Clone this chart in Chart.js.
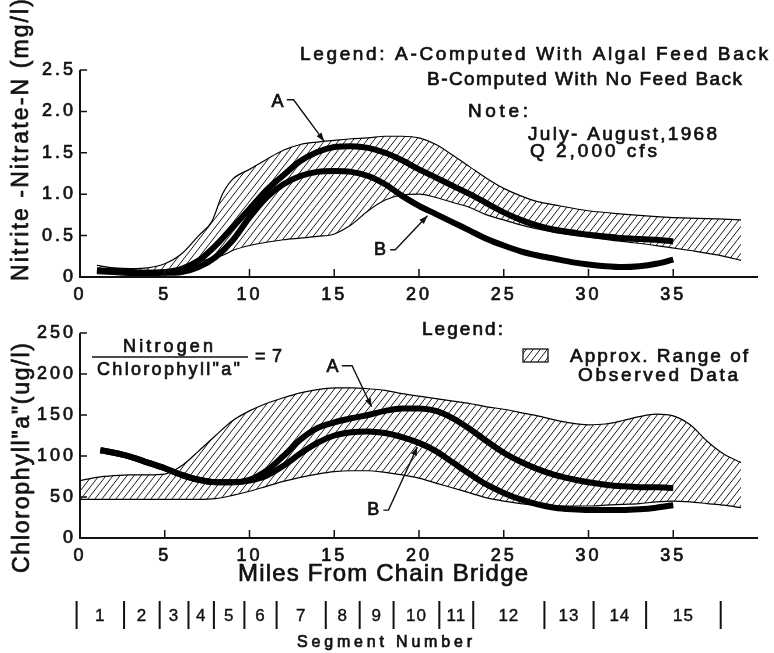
<!DOCTYPE html>
<html>
<head>
<meta charset="utf-8">
<script src="https://cdn.jsdelivr.net/npm/chart.js@4"></script>
<style>
html, body { margin: 0; padding: 0; background: #fff; }
#wrap { position: relative; width: 774px; height: 653px; }
#wrap canvas { position: absolute; left: 0; top: 0; }
</style>
</head>
<body>
<div id="wrap">
<canvas id="nitrate" width="774" height="653"></canvas>
<canvas id="chloro" width="774" height="653"></canvas>
</div>
<script>
// ---- data: top panel, nitrite-nitrate-N (mg/l) ----
const nMiles = [1,2,3,4,5,6,7,8,9,10,11,12,13,14,15,16,17,18,19,20,21,22,23,24,25,26,27,28,29,30,31,32,33,34,35]
const nCurveA = [0.08,0.07,0.06,0.05,0.06,0.1,0.2,0.38,0.6,0.82,1.05,1.23,1.4,1.51,1.57,1.58,1.56,1.5,1.41,1.3,1.2,1.1,1.0,0.89,0.78,0.69,0.62,0.57,0.54,0.51,0.49,0.47,0.46,0.45,0.43]
const nCurveB = [0.08,0.07,0.06,0.05,0.05,0.06,0.12,0.24,0.44,0.72,0.96,1.12,1.22,1.27,1.28,1.27,1.22,1.12,0.98,0.86,0.76,0.66,0.56,0.46,0.38,0.31,0.26,0.22,0.18,0.15,0.13,0.12,0.13,0.16,0.21]
const nBandMiles = [1,2,3,4,5,6,7,7.8,8.4,9,10,11,12,13,14,15,16,17,18,19,20,21,22,23,24,25,26,27,28,30,32,34,36,38,39]
const nBandHigh = [0.14,0.11,0.1,0.11,0.16,0.28,0.5,0.68,1.0,1.18,1.3,1.42,1.53,1.6,1.63,1.65,1.67,1.68,1.7,1.7,1.68,1.6,1.47,1.33,1.19,1.07,0.98,0.91,0.87,0.8,0.76,0.73,0.71,0.7,0.69]
const nBandLow = [0.04,0.03,0.02,0.02,0.03,0.08,0.18,0.23,0.26,0.32,0.38,0.42,0.45,0.47,0.49,0.52,0.63,0.8,0.93,0.99,1.0,0.96,0.9,0.84,0.75,0.69,0.63,0.58,0.54,0.48,0.43,0.38,0.32,0.25,0.2]
const nTicks = [0,0.5,1.0,1.5,2.0,2.5]

// ---- data: bottom panel, chlorophyll "a" (ug/l) ----
const cMiles = [1.2,2,3,4,5,6,7,8,9,10,11,12,13,14,15,16,17,18,19,20,21,22,23,24,25,26,27,28,29,30,31,32,33,34,35]
const cCurveA = [107,104,99,92,85,77,71,68,68,71,82,100,120,134,141,146,150,155,158,158,155,146,133,118,104,93,84,77,72,68,65,63,62,62,61]
const cCurveB = [107,104,99,92,85,77,71,68,68,70,76,88,103,116,125,129,130,128,123,116,106,92,78,65,55,47,41,37,35,34,34,34,35,37,40]
const cBandMiles = [0,1,2,3,4,5,6,7,8,9,10,11,12,13,14,15,16,17,18,19,20,21,22,23,24,25,26,27,28,29,30,31,32,33,34,35,36,37,38,39]
const cBandHigh = [70,74,76,77,77,78,88,106,125,143,155,164,171,177,181,183,183,182,180,176,173,170,167,164,160,157,153,149,144,140,138,139,143,148,151,149,138,118,102,92]
const cBandLow = [47,47,47,47,47,47,47,47,48,52,57,63,69,74,78,81,82,82,80,77,73,67,61,55,49,45,42,40,39,39,39,40,41,42,44,45,44,42,40,37]
const cTicks = [0,50,100,150,200,250]

// ---- shared x axis and segment bar ----
const mileTicks = [0,5,10,15,20,25,30,35]
const segmentEdges = [-0.2,2.6,4.7,6.4,7.9,9.7,11.6,14.5,16.5,18.5,21.2,23.2,27.4,30.3,33.4,37.8]
const segmentNames = ['1','2','3','4','5','6','7','8','9','10','11','12','13','14','15']

const FONT = '"Liberation Sans", Arial, Helvetica, sans-serif'
const INK = '#111'

function pts(xs, ys) {
	return xs.map((x, i) => ({x: x, y: ys[i]}))
}

function hatch() {
	let c = document.createElement('canvas')
	c.width = 7
	c.height = 9
	let g = c.getContext('2d')
	g.strokeStyle = '#1a1a1a'
	g.lineWidth = 1
	g.beginPath()
	g.moveTo(0, 9); g.lineTo(7, 0)
	g.moveTo(-1, 1.3); g.lineTo(1, -1.3)
	g.moveTo(6, 10.3); g.lineTo(8, 7.7)
	g.stroke()
	return g.createPattern(c, 'repeat')
}
const pattern = hatch()

// text stretched with letter spacing so it spans a given width, slightly inked like the scan
function spaced(ctx, str, x, y, size, width) {
	ctx.save()
	ctx.font = size + 'px ' + FONT
	ctx.letterSpacing = '0px'
	let w0 = ctx.measureText(str).width
	let n = str.length
	let sp = n > 1 ? (width - w0) / (n - 1) : 0
	ctx.letterSpacing = sp + 'px'
	ctx.textAlign = 'left'
	ctx.textBaseline = 'alphabetic'
	ctx.lineWidth = 0.7
	ctx.fillText(str, x, y)
	ctx.strokeText(str, x, y)
	ctx.restore()
}

function rotated(ctx, str, x, y, size, width) {
	ctx.save()
	ctx.translate(x, y)
	ctx.rotate(-Math.PI / 2)
	spaced(ctx, str, 0, 0, size, width)
	ctx.restore()
}

// leader line with arrow head, in data coordinates
function leader(ctx, chart, a) {
	let xs = chart.scales.x, ys = chart.scales.y
	let p = a.path.map(q => [xs.getPixelForValue(q[0]), ys.getPixelForValue(q[1])])
	ctx.save()
	ctx.font = '18px ' + FONT
	ctx.textAlign = 'center'
	ctx.textBaseline = 'middle'
	ctx.lineWidth = 0.7
	let lx = xs.getPixelForValue(a.at[0]), ly = ys.getPixelForValue(a.at[1])
	ctx.fillText(a.label, lx, ly)
	ctx.strokeText(a.label, lx, ly)
	ctx.lineWidth = 1.4
	ctx.beginPath()
	ctx.moveTo(p[0][0], p[0][1])
	for(let i = 1; i < p.length; ++i) ctx.lineTo(p[i][0], p[i][1])
	ctx.stroke()
	let e = p[p.length - 1], s = p[p.length - 2]
	let ang = Math.atan2(e[1] - s[1], e[0] - s[0])
	ctx.beginPath()
	ctx.moveTo(e[0], e[1])
	ctx.lineTo(e[0] - 9 * Math.cos(ang - 0.35), e[1] - 9 * Math.sin(ang - 0.35))
	ctx.lineTo(e[0] - 9 * Math.cos(ang + 0.35), e[1] - 9 * Math.sin(ang + 0.35))
	ctx.closePath()
	ctx.fill()
	ctx.restore()
}

function paper(extra) {
	return {
		id: 'paper',
		beforeDraw(chart) {
			chart.ctx.letterSpacing = '3px'
		},
		afterDraw(chart) {
			let ctx = chart.ctx, a = chart.chartArea
			let xs = chart.scales.x, ys = chart.scales.y
			ctx.save()
			ctx.letterSpacing = '0px'
			ctx.strokeStyle = INK
			ctx.fillStyle = INK
			ctx.lineWidth = 2
			ctx.beginPath()
			ctx.moveTo(a.left, a.top)
			ctx.lineTo(a.left, a.bottom)
			ctx.lineTo(a.right, a.bottom)
			ctx.stroke()
			ctx.lineWidth = 1.5
			ctx.beginPath()
			xs.ticks.forEach(t => {
				if(t.value <= 0) return
				let px = xs.getPixelForValue(t.value)
				ctx.moveTo(px, a.bottom)
				ctx.lineTo(px, a.bottom - 8)
			})
			ys.ticks.forEach(t => {
				if(t.value <= 0) return
				let py = ys.getPixelForValue(t.value)
				ctx.moveTo(a.left, py)
				ctx.lineTo(a.left + 7, py)
			})
			ctx.stroke()
			extra(ctx, chart)
			ctx.restore()
		}
	}
}

function lineSet(xs, ys, width) {
	return {
		data: pts(xs, ys),
		borderColor: '#000',
		borderWidth: width,
		pointRadius: 0,
		fill: false,
		cubicInterpolationMode: 'monotone'
	}
}

function panel(id, sets, yMax, yTicks, fmt, pad, extra) {
	let tickFont = {family: FONT, size: 18}
	return new Chart(document.getElementById(id), {
		type: 'line',
		data: {datasets: sets},
		options: {
			responsive: false,
			animation: false,
			events: [],
			layout: {padding: pad},
			plugins: {
				legend: {display: false},
				tooltip: {enabled: false},
				filler: {drawTime: 'beforeDatasetsDraw'}
			},
			scales: {
				x: {
					type: 'linear', min: 0, max: 40,
					grid: {display: false, drawTicks: false},
					border: {display: false},
					afterBuildTicks: s => { s.ticks = mileTicks.map(v => ({value: v})) },
					ticks: {color: INK, padding: 7, maxRotation: 0, font: tickFont, textStrokeColor: INK, textStrokeWidth: 0.7},
					afterFit: s => { s.height = 30 }
				},
				y: {
					min: 0, max: yMax,
					grid: {display: false, drawTicks: false},
					border: {display: false},
					afterBuildTicks: s => { s.ticks = yTicks.map(v => ({value: v})) },
					ticks: {color: INK, padding: 4, font: tickFont, textStrokeColor: INK, textStrokeWidth: 0.7, callback: fmt},
					afterFit: s => { s.width = 80 }
				}
			}
		},
		plugins: [paper(extra)]
	})
}

// top panel
panel('nitrate', [
	lineSet(nMiles, nCurveA, 6),
	lineSet(nMiles, nCurveB, 6),
	Object.assign(lineSet(nBandMiles, nBandHigh, 1.2), {fill: '+1', backgroundColor: pattern}),
	lineSet(nBandMiles, nBandLow, 1.2)
], 2.5, nTicks, v => v === 0 ? '0' : v.toFixed(1),
{top: 70, right: 16, bottom: 346, left: 0},
(ctx, chart) => {
	rotated(ctx, 'Nitrite -Nitrate-N (mg/l)', 28, 281, 23, 282)
	spaced(ctx, 'Legend: A-Computed With Algal Feed Back', 300, 60, 19, 468)
	spaced(ctx, 'B-Computed With No Feed Back', 427, 85, 19, 315)
	spaced(ctx, 'Note:', 468, 117, 19, 60)
	spaced(ctx, 'July- August,1968', 528, 140, 19, 189)
	spaced(ctx, 'Q 2,000 cfs', 530, 157, 19, 127)
	leader(ctx, chart, {label: 'A', at: [11.65, 2.11], path: [[12.2, 2.14], [12.6, 2.14], [14.4, 1.64]]})
	leader(ctx, chart, {label: 'B', at: [17.7, 0.33], path: [[18.3, 0.33], [18.6, 0.33], [20.5, 0.74]]})
})

// bottom panel
panel('chloro', [
	lineSet(cMiles, cCurveA, 6),
	lineSet(cMiles, cCurveB, 6),
	Object.assign(lineSet(cBandMiles, cBandHigh, 1.2), {fill: '+1', backgroundColor: pattern}),
	lineSet(cBandMiles, cBandLow, 1.2)
], 250, cTicks, v => String(v),
{top: 333, right: 16, bottom: 85, left: 0},
(ctx, chart) => {
	rotated(ctx, 'Chlorophyll"a"(ug/l)', 29, 573, 23, 230)
	spaced(ctx, 'Nitrogen', 123, 352, 18, 90)
	ctx.lineWidth = 1.6
	ctx.beginPath()
	ctx.moveTo(92, 357)
	ctx.lineTo(248, 357)
	ctx.stroke()
	spaced(ctx, 'Chlorophyll"a"', 97, 375, 18, 143)
	spaced(ctx, '= 7', 255, 362, 18, 27)
	spaced(ctx, 'Legend:', 422, 335, 19, 81)
	ctx.save()
	ctx.fillStyle = pattern
	ctx.fillRect(523, 349, 25, 13)
	ctx.lineWidth = 1.3
	ctx.strokeRect(523, 349, 25, 13)
	ctx.restore()
	spaced(ctx, 'Approx. Range of', 570, 362, 19, 178)
	spaced(ctx, 'Observed Data', 578, 381, 19, 160)
	spaced(ctx, 'Miles From Chain Bridge', 238, 581, 24, 290)
	leader(ctx, chart, {label: 'A', at: [14.9, 208], path: [[15.45, 210], [16.05, 210], [17.2, 160]]})
	leader(ctx, chart, {label: 'B', at: [17.3, 34], path: [[17.9, 34], [18.2, 34], [19.9, 111]]})

	// segment bar below the axis
	let xs = chart.scales.x
	ctx.lineWidth = 2
	ctx.beginPath()
	segmentEdges.forEach(m => {
		let px = xs.getPixelForValue(m)
		ctx.moveTo(px, 601)
		ctx.lineTo(px, 629)
	})
	ctx.stroke()
	ctx.font = '17px ' + FONT
	ctx.textAlign = 'center'
	ctx.textBaseline = 'alphabetic'
	ctx.letterSpacing = '1px'
	ctx.lineWidth = 0.4
	segmentNames.forEach((s, i) => {
		let mid = (xs.getPixelForValue(segmentEdges[i]) + xs.getPixelForValue(segmentEdges[i + 1])) / 2
		ctx.fillText(s, mid, 621)
		ctx.strokeText(s, mid, 621)
	})
	ctx.letterSpacing = '0px'
	spaced(ctx, 'Segment Number', 297, 647, 16, 175)
})
</script>
</body>
</html>
